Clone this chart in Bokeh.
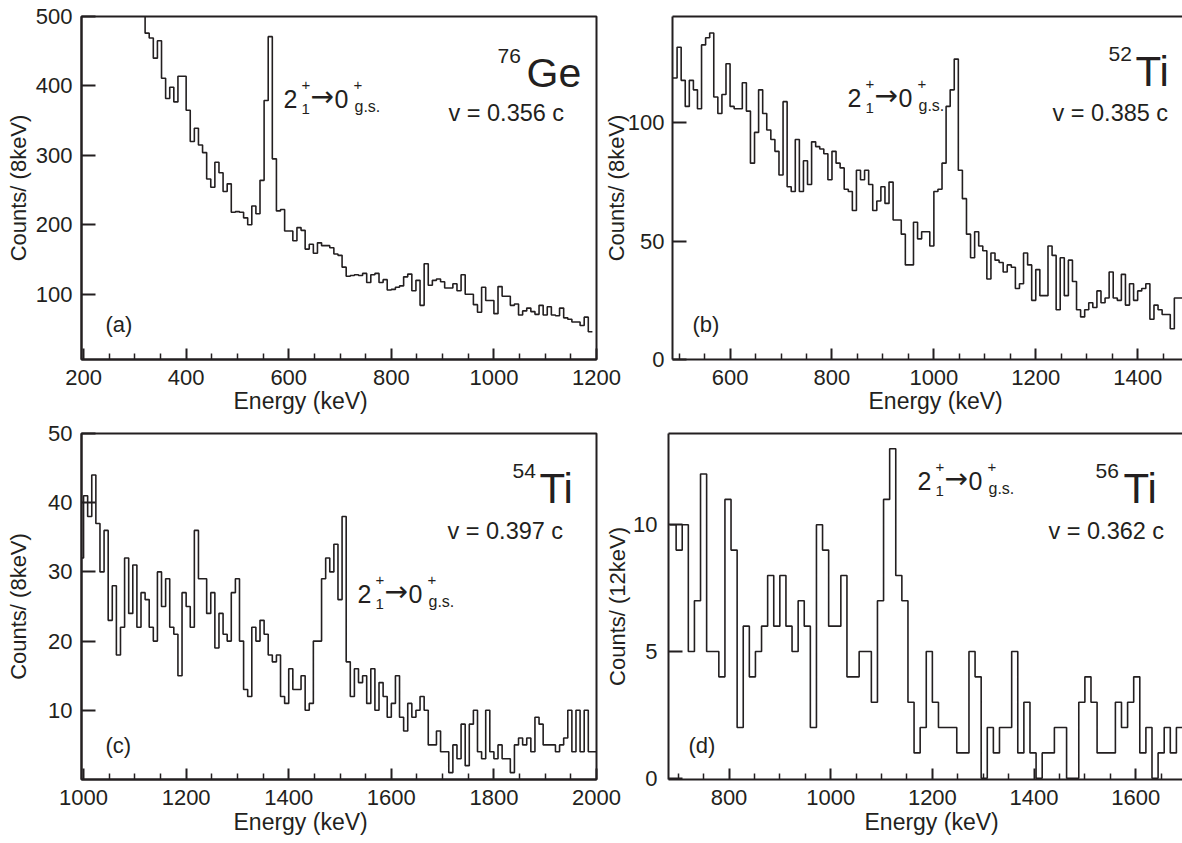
from bokeh.plotting import figure
from bokeh.models import Range1d, FixedTicker, Label, Title, LinearAxis
from bokeh.layouts import row, column
from bokeh.embed import file_html
from bokeh.resources import INLINE

INK = "#231f20"
FONT = "Liberation Sans"

# ---------------- data (counts per bin) ----------------
# (a) 76Ge, 8 keV bins
a_start, a_bin = 192, 8
a_counts = [640, 630, 620, 610, 600, 590, 580, 570, 560, 555, 550, 540, 530, 520, 515, 505,
            476, 469, 440, 465, 411, 382, 398, 377, 414, 414, 365, 320, 339, 315, 304, 266,
            254, 290, 275, 248, 259, 218, 219, 218, 210, 200, 227, 216, 264, 379, 471, 295,
            220, 222, 191, 191, 177, 196, 192, 165, 172, 159, 174, 170, 170, 167, 158,
            156, 139, 126, 127, 128, 127, 130, 117, 128, 130, 117, 121, 106, 107, 110, 112,
            125, 129, 105, 120, 84, 144, 113, 120, 122, 118, 109, 109, 115, 105, 128, 100,
            100, 85, 74, 110, 91, 91, 72, 111, 97, 97, 84, 86, 70, 76, 80, 75, 71, 84, 70,
            82, 70, 69, 80, 66, 64, 60, 60, 55, 67, 46]

# (b) 52Ti, 8 keV bins
b_start, b_bin = 488, 8
b_counts = [119, 132, 118, 107, 118, 114, 106, 133, 136, 138, 111, 104, 112, 125, 107, 106,
            106, 117, 105, 83, 96, 114, 104, 97, 93, 88, 78, 109, 73, 71, 93, 71, 84, 74, 92,
            90, 89, 87, 76, 88, 83, 81, 72, 71, 63, 80, 76, 80, 74, 63, 67, 73, 66, 75, 59, 59,
            53, 40, 40, 58, 51, 54, 54, 48, 71, 72, 83, 107, 114, 127, 80, 68, 53, 43, 54, 48,
            46, 34, 45, 42, 41, 37, 40, 39, 30, 32, 45, 40, 25, 38, 27, 27, 48, 44, 21, 43, 27,
            42, 33, 21, 18, 21, 24, 22, 29, 24, 26, 37, 26, 25, 36, 23, 32, 25, 29, 30, 32, 17,
            23, 21, 19, 19, 13, 26, 26]

# (c) 54Ti, 8 keV bins
c_start, c_bin = 992, 8
c_counts = [32, 41, 38, 44, 37, 30, 36, 23, 28, 18, 22, 32, 24, 31, 22, 27, 26, 22, 20, 30,
            25, 29, 22, 21, 15, 27, 25, 22, 36, 29, 29, 24, 27, 19, 24, 21, 20, 27, 29, 20,
            13, 12, 22, 20, 23, 21, 18, 17, 18, 12, 11, 16, 13, 13, 15, 10, 11, 20, 20, 29,
            32, 30, 34, 26, 38, 17,
            12, 16, 14, 15, 11, 16, 10, 14, 12, 9, 11, 15, 9, 7, 11, 9, 10, 12, 10, 5,
            5, 7, 4, 4, 1, 5, 3, 8, 2, 8, 10, 4, 3, 10, 4, 3, 5, 3, 3, 1,
            5, 6, 5, 6, 4, 9, 8, 5, 5, 5, 4, 5, 6, 10, 4, 10, 4, 10, 4, 4]

# (d) 56Ti, 12 keV bins
d_start, d_bin = 684, 12
d_counts = [10, 9, 10, 5, 7, 12, 5, 5, 4, 11, 9, 2, 6, 4, 5, 6, 8, 6, 8, 6, 5, 7, 6, 2,
            10, 9, 6, 6, 8, 4, 4, 5, 5, 3, 7, 11, 13, 8, 7, 3, 1, 2, 5, 3, 2, 2, 2, 1, 1, 5,
            4, 0, 2, 1, 2, 2, 5, 1, 3, 1, 0, 1, 1, 2, 2, 0, 0, 3, 4, 3, 1, 1, 1, 3, 2, 3, 4,
            1, 2, 0, 1, 2, 1, 2]

# tick labels
a_xticks = [200, 400, 600, 800, 1000, 1200]
a_yticks = [100, 200, 300, 400, 500]
b_xticks = [600, 800, 1000, 1200, 1400]
b_yticks = [0, 50, 100]
c_xticks = [1000, 1200, 1400, 1600, 1800, 2000]
c_yticks = [10, 20, 30, 40, 50]
d_xticks = [800, 1000, 1200, 1400, 1600]
d_yticks = [0, 5, 10]

isotopes = [("76", "Ge"), ("52", "Ti"), ("54", "Ti"), ("56", "Ti")]
velocities = ["v = 0.356 c", "v = 0.385 c", "v = 0.397 c", "v = 0.362 c"]
tags = ["(a)", "(b)", "(c)", "(d)"]
ylabels = ["Counts/ (8keV)", "Counts/ (8keV)", "Counts/ (8keV)", "Counts/ (12keV)"]
xlabel = "Energy (keV)"


def hist_xy(start, width, counts):
    xs = [start + width * i for i in range(len(counts) + 1)]
    ys = list(counts) + [counts[-1]]
    return xs, ys


def txt(p, x, y, s, size, font=FONT):
    p.add_layout(Label(x=x, y=y, x_units="screen", y_units="screen", text=s,
                       text_font=font, text_font_size=f"{size}px", text_color=INK,
                       text_align="left", text_baseline="alphabetic"))


def transition(p, x, y):
    txt(p, x, y, "2", 25)
    txt(p, x + 18, y - 10, "1", 15)
    txt(p, x + 18, y + 14, "+", 15)
    txt(p, x + 27, y + 2, "\u2192", 28, font="DejaVu Sans")
    txt(p, x + 51, y, "0", 25)
    txt(p, x + 70, y + 14, "+", 15)
    txt(p, x + 71, y - 8, "g.s.", 16)


def panel(width, height, borders, xr, yr, xticks, yticks, counts, start, binw,
          ylab, ystand, ylab_stand, xtitle_offset, xtitle_standoff, closed_right=True):
    p = figure(width=width, height=height, x_range=Range1d(*xr), y_range=Range1d(*yr),
               output_backend="svg", toolbar_location=None,
               min_border_left=borders[0], min_border_right=borders[1],
               min_border_top=borders[2], min_border_bottom=borders[3])
    p.border_fill_color = None
    p.background_fill_color = "white"
    p.xgrid.visible = False
    p.ygrid.visible = False
    xa, ya = p.below[0], p.left[0]
    if closed_right:
        p.outline_line_color = INK
        p.outline_line_width = 2
    else:
        p.outline_line_color = None
        top = LinearAxis(ticker=FixedTicker(ticks=[], minor_ticks=[]), axis_line_color=INK,
                         axis_line_width=2, major_tick_in=0, major_tick_out=0,
                         minor_tick_in=0, minor_tick_out=0, major_label_standoff=0,
                         major_label_text_font_size="0px")
        p.add_layout(top, "above")
    xs, ys = hist_xy(start, binw, counts)
    p.step(xs, ys, mode="after", line_color=INK, line_width=1.6)

    minor_step = 50
    lo = xticks[0] - 4 * minor_step
    minors = [lo + minor_step * i for i in range(int((xr[1] - lo) / minor_step) + 1)]
    minors = [m for m in minors if xr[0] <= m <= xr[1] and m not in xticks]
    xa.ticker = FixedTicker(ticks=xticks, minor_ticks=minors)
    ya.ticker = FixedTicker(ticks=yticks, minor_ticks=[])
    for ax in (xa, ya):
        ax.axis_line_color = INK
        ax.axis_line_width = 2
        ax.major_tick_line_color = INK
        ax.major_tick_line_width = 2
        ax.minor_tick_line_color = INK
        ax.minor_tick_line_width = 1.5
        ax.major_tick_out = 0
        ax.minor_tick_out = 0
        ax.major_label_text_font = FONT
        ax.major_label_text_font_size = "22px"
        ax.major_label_text_color = INK
    xa.major_tick_in = 11
    xa.minor_tick_in = 6
    xa.major_label_standoff = 10
    ya.major_tick_in = 14
    ya.minor_tick_in = 0
    ya.major_label_standoff = ystand
    ya.axis_label = ylab
    ya.axis_label_text_font = FONT
    ya.axis_label_text_font_size = "22px"
    ya.axis_label_text_font_style = "normal"
    ya.axis_label_text_color = INK
    ya.axis_label_standoff = ylab_stand
    p.add_layout(Title(text=xlabel, align="left", offset=xtitle_offset, standoff=xtitle_standoff,
                       text_font=FONT, text_font_size="23px", text_font_style="normal",
                       text_color=INK, vertical_align="top"), "below")
    return p


# top row (canvas y 0..420)
pa = panel(624, 420, (81, 28, 16, 61), (196, 1200), (6, 500), a_xticks, a_yticks,
           a_counts, a_start, a_bin, ylabels[0], 9, 2, 152, 1)
pb = panel(582, 420, (68, 0, 16, 61), (487, 1488), (0, 145), b_xticks, b_yticks,
           b_counts, b_start, b_bin, ylabels[1], 8, -4, 196, 1, closed_right=False)
# bottom row (canvas y 420..843)
pc = panel(624, 423, (81, 28, 13, 64), (996, 2000), (0, 50), c_xticks, c_yticks,
           c_counts, c_start, c_bin, ylabels[2], 9, 14, 152, 3)
pd = panel(582, 423, (68, 0, 13, 64), (681, 1692), (-0.05, 13.6), d_xticks, d_yticks,
           d_counts, d_start, d_bin, ylabels[3], 11, 0, 196, 3, closed_right=False)
pb.margin = (0, 0, 0, -24)
pd.margin = (0, 0, 0, -24)

# annotations (screen offsets from each frame's lower-left corner)
txt(pa, 24, 35, tags[0], 22)
txt(pb, 20, 35, tags[1], 22)
txt(pc, 24, 34, tags[2], 22)
txt(pd, 20, 34, tags[3], 22)

txt(pa, 416, 304, isotopes[0][0], 21)
txt(pa, 445, 287, isotopes[0][1], 41)
txt(pb, 436, 306, isotopes[1][0], 21)
txt(pb, 463, 288, isotopes[1][1], 42)
txt(pc, 431, 309, isotopes[2][0], 21)
txt(pc, 458, 291, isotopes[2][1], 42)
txt(pd, 427, 309, isotopes[3][0], 21)
txt(pd, 455, 291, isotopes[3][1], 42)

txt(pa, 367, 247, velocities[0], 23.5)
txt(pb, 380, 247, velocities[1], 23.5)
txt(pc, 366, 249, velocities[2], 23.5)
txt(pd, 380, 249, velocities[3], 23.5)

transition(pa, 202, 261)
transition(pb, 175, 262)
transition(pc, 276, 186)
transition(pd, 249, 299)

layout = column(row(pa, pb), row(pc, pd))
open("out.html", "w").write(file_html(layout, INLINE))
